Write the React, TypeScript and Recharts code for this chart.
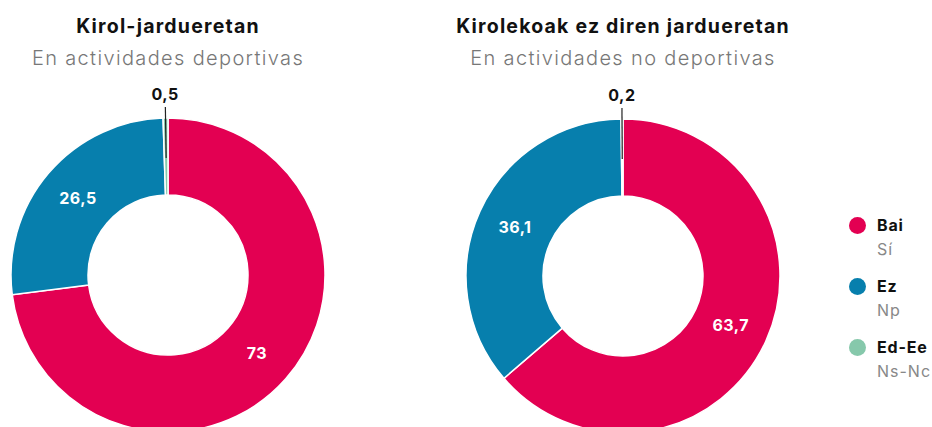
import React from 'react';
import { PieChart, Pie, Cell } from 'recharts';

const categories = ['Bai', 'Ez', 'Ed-Ee'];
const categoriesEs = ['Sí', 'Np', 'Ns-Nc'];
const colors = ['#E30052', '#077FAD', '#86C8AB'];
const titles = ['Kirol-jardueretan', 'Kirolekoak ez diren jardueretan'];
const subtitles = ['En actividades deportivas', 'En actividades no deportivas'];
const sportsValues = [73, 26.5, 0.5];
const nonSportsValues = [63.7, 36.1, 0.2];

const FONT = 'Inter, "Noto Sans", sans-serif';
const RAD = Math.PI / 180;

const toData = (vals: number[]) => categories.map((c, i) => ({ name: c, value: vals[i] }));
const fmt = (v: number) => String(v).replace('.', ',');

const renderLabel = (p: any) => {
  const { cx, cy, midAngle, innerRadius, outerRadius, value } = p;
  const cos = Math.cos(-midAngle * RAD);
  const sin = Math.sin(-midAngle * RAD);
  if (value < 2) {
    const r1 = outerRadius + 11;
    const r2 = outerRadius - 40;
    const rt = outerRadius + 24;
    return (
      <g>
        <line x1={cx + r1 * cos} y1={cy + r1 * sin} x2={cx + r2 * cos} y2={cy + r2 * sin} stroke="#222" strokeWidth={1.2} />
        <text x={cx + rt * cos} y={cy + rt * sin} textAnchor="middle" dominantBaseline="central" fill="#111" fontWeight={700} fontSize={16} letterSpacing={0.5} fontFamily={FONT}>
          {fmt(value)}
        </text>
      </g>
    );
  }
  const r = (innerRadius + outerRadius) / 2;
  return (
    <text x={cx + r * cos} y={cy + r * sin} textAnchor="middle" dominantBaseline="central" fill="#fff" fontWeight={700} fontSize={16} letterSpacing={0.5} fontFamily={FONT}>
      {fmt(value)}
    </text>
  );
};

const centers = [
  { cx: 168, cy: 275 },
  { cx: 623, cy: 276 },
];

export default function App() {
  const datasets = [toData(sportsValues), toData(nonSportsValues)];
  return (
    <div style={{ position: 'absolute', left: 0, top: 0, width: 932, height: 427, overflow: 'hidden', background: '#fff', fontFamily: FONT }}>
      {titles.map((t, i) => (
        <div key={t} style={{ position: 'absolute', left: centers[i].cx - 230, width: 460, top: 13, textAlign: 'center' }}>
          <div style={{ fontWeight: 700, fontSize: 19.5, letterSpacing: 1.2, color: '#111', lineHeight: '26px', whiteSpace: 'nowrap' }}>{t}</div>
          <div style={{ fontWeight: 300, fontSize: 20, letterSpacing: 1.35, color: '#777', lineHeight: '28px', marginTop: 5, whiteSpace: 'nowrap' }}>{subtitles[i]}</div>
        </div>
      ))}
      <div style={{ position: 'absolute', left: 0, top: 0 }}>
        <PieChart width={932} height={427} margin={{ top: 0, right: 0, bottom: 0, left: 0 }}>
          {datasets.map((d, i) => (
            <Pie
              key={i}
              data={d}
              dataKey="value"
              nameKey="name"
              cx={centers[i].cx}
              cy={centers[i].cy}
              innerRadius={80}
              outerRadius={157}
              startAngle={90}
              endAngle={-270}
              stroke="#fff"
              strokeWidth={1.5}
              label={renderLabel}
              labelLine={false}
              isAnimationActive={false}
            >
              {d.map((_, j) => (
                <Cell key={j} fill={colors[j]} />
              ))}
            </Pie>
          ))}
        </PieChart>
      </div>
      {categories.map((c, i) => (
        <div key={c} style={{ position: 'absolute', left: 849, top: 214 + i * 61 }}>
          <div style={{ position: 'absolute', left: 0, top: 3, width: 17, height: 17, borderRadius: 9, background: colors[i] }} />
          <div style={{ position: 'absolute', left: 28, top: 0, fontWeight: 700, fontSize: 16, letterSpacing: 0.8, color: '#111', lineHeight: '22px', whiteSpace: 'nowrap' }}>{c}</div>
          <div style={{ position: 'absolute', left: 28, top: 24, fontWeight: 400, fontSize: 16, letterSpacing: 1, color: '#888', lineHeight: '22px', whiteSpace: 'nowrap' }}>{categoriesEs[i]}</div>
        </div>
      ))}
    </div>
  );
}
